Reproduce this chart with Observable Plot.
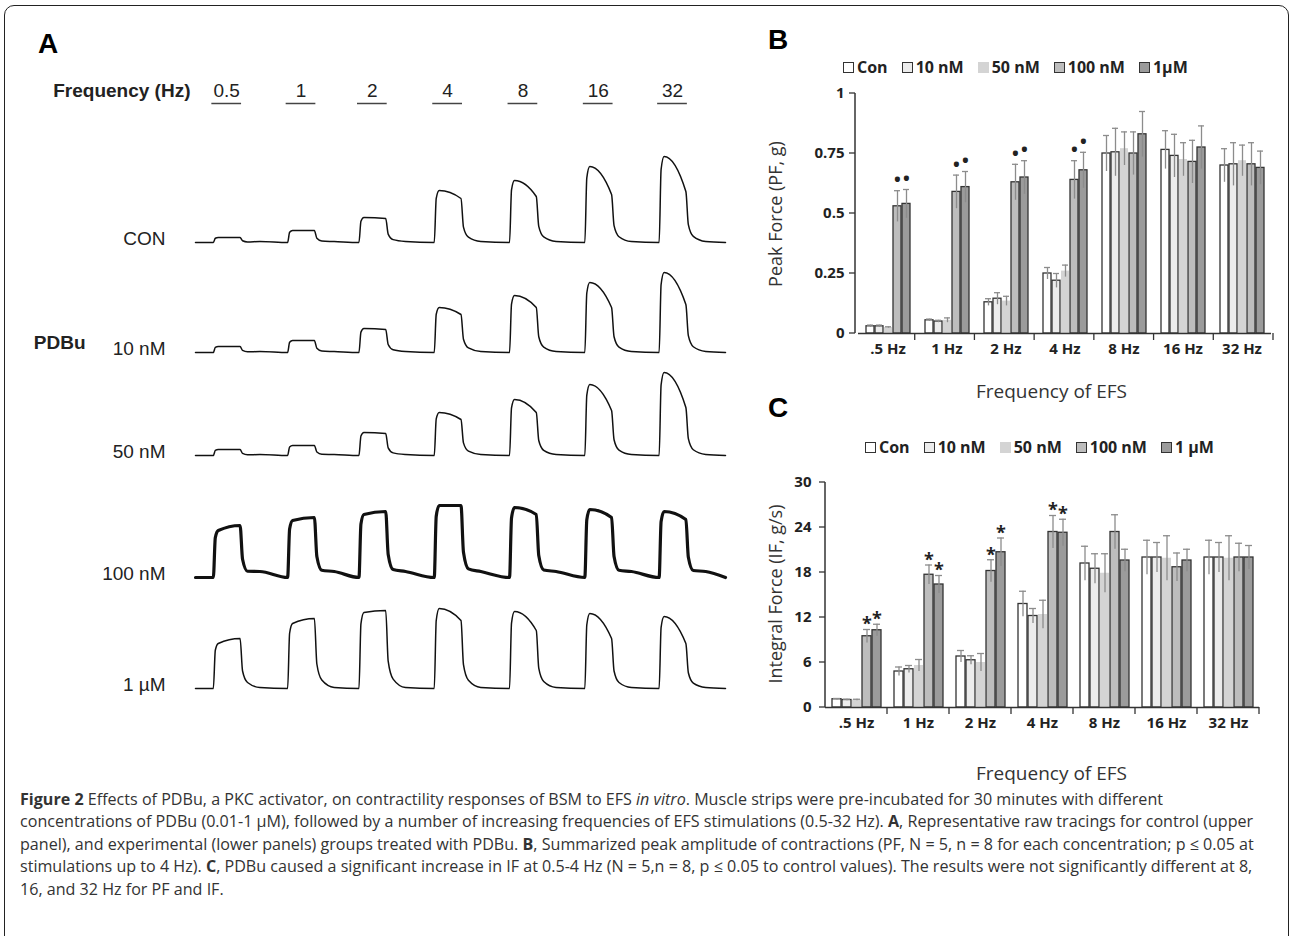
<!DOCTYPE html>
<html>
<head>
<meta charset="utf-8">
<script src="https://cdn.jsdelivr.net/npm/d3@7"></script>
<script src="https://cdn.jsdelivr.net/npm/@observablehq/plot@0.6"></script>
<style>
  body { margin: 0; background: #fff; font-family: "Liberation Sans", Arial, sans-serif; }
  #fig { position: relative; width: 1292px; height: 936px; overflow: hidden; }
  .abs { position: absolute; }
  .frame { left: 4px; top: 5px; width: 1283px; height: 960px; border: 1.5px solid #222; border-radius: 10px; }
  .panel { font: bold 28px "Liberation Sans", Arial, sans-serif; }
  .legend { font: bold 16px "Open Sans", sans-serif; color: #222; display: flex; gap: 14px; align-items: center; }
  .legend span { display: inline-flex; align-items: center; gap: 3px; }
  .legend i { display: inline-block; width: 11px; height: 11px; box-sizing: border-box; }
  .ylab { font: 18px "Open Sans", sans-serif; color: #333; transform: rotate(-90deg); transform-origin: center; white-space: nowrap; text-align: center; }
  .xlab { font: 19px "Open Sans", sans-serif; color: #333; }
  .cap { left: 20px; top: 788px; width: 1235px; font: 16.1px/22.4px "Open Sans", sans-serif; color: #333; }
</style>
</head>
<body>
<div id="fig">
  <div class="abs frame"></div>
  <div class="abs panel" style="left:38px;top:28px">A</div>
  <div class="abs panel" style="left:768px;top:24px">B</div>
  <div class="abs panel" style="left:768px;top:392px">C</div>
  <div id="a" class="abs" style="left:0;top:0"></div>
  <div id="legB" class="abs legend" style="left:843px;top:56px"></div>
  <div id="b" class="abs" style="left:760px;top:60px"></div>
  <div class="abs ylab" style="left:680px;top:202px;width:190px">Peak Force (PF, g)</div>
  <div class="abs xlab" style="left:976px;top:378px">Frequency of EFS</div>
  <div id="legC" class="abs legend" style="left:865px;top:436px"></div>
  <div id="c" class="abs" style="left:740px;top:450px"></div>
  <div class="abs ylab" style="left:665px;top:582px;width:220px">Integral Force (IF, g/s)</div>
  <div class="abs xlab" style="left:976px;top:760px">Frequency of EFS</div>
  <div class="abs cap"><b>Figure 2</b> Effects of PDBu, a PKC activator, on contractility responses of BSM to EFS <i>in vitro</i>. Muscle strips were pre-incubated for 30 minutes with different concentrations of PDBu (0.01-1 μM), followed by a number of increasing frequencies of EFS stimulations (0.5-32 Hz). <b>A</b>, Representative raw tracings for control (upper panel), and experimental (lower panels) groups treated with PDBu. <b>B</b>, Summarized peak amplitude of contractions (PF, N = 5, n = 8 for each concentration; p ≤ 0.05 at stimulations up to 4 Hz). <b>C</b>, PDBu caused a significant increase in IF at 0.5-4 Hz (N = 5,n = 8, p ≤ 0.05 to control values). The results were not significantly different at 8, 16, and 32 Hz for PF and IF.</div>
</div>
<script>
// ---- data ----
const freqs = [".5 Hz", "1 Hz", "2 Hz", "4 Hz", "8 Hz", "16 Hz", "32 Hz"];
const freqHz = ["0.5", "1", "2", "4", "8", "16", "32"];
const concs = ["Con", "10 nM", "50 nM", "100 nM", "1µM"];
const concColors = ["#ffffff", "#ececec", "#d4d4d4", "#bdbdbd", "#9b9b9b"];
const concStroke = ["#333", "#333", "none", "#333", "#333"];

// peak force (g), rows = frequency, columns = concentration
const pfMean = [
  [0.03, 0.03, 0.025, 0.53, 0.54],
  [0.055, 0.05, 0.055, 0.59, 0.61],
  [0.13, 0.145, 0.135, 0.63, 0.65],
  [0.25, 0.22, 0.26, 0.64, 0.68],
  [0.75, 0.755, 0.77, 0.75, 0.83],
  [0.765, 0.74, 0.725, 0.715, 0.775],
  [0.70, 0.705, 0.72, 0.705, 0.69]
];
const pfErr = [
  [0.005, 0.005, 0.003, 0.065, 0.06],
  [0.005, 0.005, 0.01, 0.07, 0.065],
  [0.015, 0.025, 0.02, 0.075, 0.07],
  [0.025, 0.03, 0.025, 0.08, 0.075],
  [0.075, 0.1, 0.07, 0.09, 0.095],
  [0.08, 0.09, 0.07, 0.09, 0.09],
  [0.07, 0.09, 0.065, 0.09, 0.07]
];
// integral force (g/s)
const ifMean = [
  [1.1, 1.0, 1.0, 9.5, 10.3],
  [4.8, 5.1, 5.6, 17.7, 16.4],
  [6.8, 6.3, 6.0, 18.2, 20.7],
  [13.8, 12.2, 12.4, 23.4, 23.3],
  [19.2, 18.5, 17.9, 23.4, 19.6],
  [20.0, 20.0, 19.9, 18.7, 19.6],
  [20.0, 20.0, 19.9, 20.0, 20.0]
];
const ifErr = [
  [0.1, 0.1, 0.1, 0.9, 0.8],
  [0.6, 0.5, 0.8, 1.3, 1.2],
  [0.8, 0.6, 1.2, 1.5, 1.9],
  [1.7, 1.0, 1.9, 2.2, 1.8],
  [2.3, 2.0, 2.6, 2.3, 1.5],
  [2.3, 2.0, 3.0, 1.9, 1.5],
  [2.3, 2.0, 3.0, 1.9, 1.6]
];
const sigFreqs = [".5 Hz", "1 Hz", "2 Hz", "4 Hz"];
const sigConcs = ["100 nM", "1µM"];

// panel A tracings: pulse onset (s), duration (s), peak and end-of-pulse amplitude (arbitrary units)
const pulseStart = [3.6, 18.6, 33, 48.2, 63.4, 78.6, 93.6];
const pulseDur = 5.4;
const traceEnd = 107;
const traceRows = ["CON", "10 nM", "50 nM", "100 nM", "1 µM"];
const traceBase = [242, 352, 455, 577, 688];
const tracePeak = [
  [5, 12, 25, 52, 62, 76, 86],
  [6, 12, 24, 45, 57, 70, 80],
  [6, 10, 23, 43, 56, 71, 83],
  [47, 57, 63, 72, 70, 68, 66],
  [45, 65, 76, 80, 77, 75, 72]
];
const traceEndAmp = [
  [5, 12, 24, 44, 46, 48, 51],
  [6, 12, 23, 38, 45, 45, 48],
  [6, 10, 22, 36, 43, 45, 48],
  [52, 60, 66, 72, 63, 60, 58],
  [50, 70, 78, 68, 58, 50, 45]
];
const traceWidth = [1.5, 1.5, 1.5, 3.2, 1.5];

// ---- panel A ----
const tracePts = [];
traceRows.forEach((row, r) => {
  const push = (tt, a) => tracePts.push({row, t: tt, y: traceBase[r] - a});
  push(0, 0);
  pulseStart.forEach((s, i) => {
    const pk = tracePeak[r][i], en = traceEndAmp[r][i];
    push(s, 0);
    push(s + 0.4, pk * 0.85);
    push(s + 1.0, pk);
    push(s + pulseDur, en);
    push(s + pulseDur + 0.5, en * 0.35);
    push(s + pulseDur + 1.5, en * 0.12);
    push(s + pulseDur + 4, r === 3 ? 6 : 1);
    const nxt = i < pulseStart.length - 1 ? pulseStart[i + 1] : traceEnd;
    push(nxt, 0);
  });
});
const freqMarks = freqHz.map((f, i) => ({f, t: pulseStart[i] + pulseDur / 2}));
const rowLabels = traceRows.map((r, i) => ({r, y: traceBase[i] - 4}));

const chartA = Plot.plot({
  width: 760, height: 770,
  marginLeft: 195, marginRight: 35, marginTop: 0, marginBottom: 0,
  x: {domain: [0, traceEnd], axis: null},
  y: {domain: [0, 770], range: [0, 770], axis: null},
  style: {fontFamily: "'Liberation Sans', Arial, sans-serif"},
  marks: [
    Plot.line(tracePts, {x: "t", y: "y", z: "row", stroke: "#111",
      strokeWidth: d => traceWidth[traceRows.indexOf(d.row)], curve: "monotone-x"}),
    Plot.text(freqMarks, {x: "t", y: 90, text: "f", fontSize: 19, fill: "#222"}),
    Plot.ruleY(freqMarks, {x1: d => d.t - 3, x2: d => d.t + 3, y: 103, stroke: "#444", strokeWidth: 1.5}),
    Plot.text(rowLabels, {x: 0, y: "y", text: "r", dx: -30, textAnchor: "end", fontSize: 19, fill: "#222"}),
    Plot.text(["Frequency (Hz)"], {x: 0, y: 90, dx: -5, textAnchor: "end", fontSize: 19, fontWeight: "bold", fill: "#222"}),
    Plot.text(["PDBu"], {x: 0, y: 342, dx: -110, textAnchor: "end", fontSize: 19, fontWeight: "bold", fill: "#222"})
  ]
});
document.getElementById("a").append(chartA);

// ---- panels B and C ----
function rowsOf(mean, err) {
  const out = [];
  freqs.forEach((f, i) => concs.forEach((c, j) => out.push({freq: f, conc: c, v: mean[i][j], e: err[i][j]})));
  return out;
}
function legend(id, names) {
  const el = document.getElementById(id);
  names.forEach((n, j) => {
    const s = document.createElement("span");
    s.innerHTML = `<i style="background:${concColors[j]};border:1.5px solid ${concStroke[j] === "none" ? concColors[j] : "#333"}"></i>${n}`;
    el.append(s);
  });
}
legend("legB", concs);
legend("legC", ["Con", "10 nM", "50 nM", "100 nM", "1 µM"]);

function barChart(data, {width, height, marginLeft, marginRight, marginTop, marginBottom, yMax, ticks, fmt, sig, sigDy}) {
  const sigData = data.filter(d => sigFreqs.includes(d.freq) && sigConcs.includes(d.conc));
  const outlined = data.filter(d => concStroke[concs.indexOf(d.conc)] !== "none");
  const plain = data.filter(d => concStroke[concs.indexOf(d.conc)] === "none");
  return Plot.plot({
    width, height, marginLeft, marginRight, marginTop, marginBottom,
    fx: {domain: freqs, padding: 0, label: null, axis: "bottom", tickSize: 0, tickPadding: 10},
    x: {domain: concs, axis: null, paddingInner: 0.12, paddingOuter: 0.55},
    y: {domain: [0, yMax], axis: null},
    color: {domain: concs, range: concColors},
    style: {fontFamily: "'Open Sans', sans-serif", fontSize: "15px", fontWeight: "bold", color: "#222"},
    marks: [
      Plot.barY(outlined, {fx: "freq", x: "conc", y: "v", fill: "conc", stroke: "#333", strokeWidth: 1.3}),
      Plot.barY(plain, {fx: "freq", x: "conc", y: "v", fill: "conc"}),
      Plot.ruleX(data, {fx: "freq", x: "conc", y1: d => d.v - d.e, y2: d => d.v + d.e, stroke: "#8c8c8c", strokeWidth: 1.3}),
      Plot.tickY(data, {fx: "freq", x: "conc", y: d => d.v + d.e, stroke: "#8c8c8c", strokeWidth: 1.3, inset: 1}),
      Plot.text(sigData, {fx: "freq", x: "conc", y: d => d.v + d.e, text: () => sig, dy: sigDy, fontSize: 18, fill: "#222"}),
      Plot.text(ticks, {fx: () => freqs[0], y: d => d, text: fmt, frameAnchor: "left", dx: -14, textAnchor: "end", fill: "#222"}),
      Plot.ruleY([0], {stroke: "#333", strokeWidth: 1.5})
    ]
  });
}

const pfTicks = [0, 0.25, 0.5, 0.75, 1];
const ifTicks = [0, 6, 12, 18, 24, 30];
const chartB = barChart(rowsOf(pfMean, pfErr), {
  width: 525, height: 335, marginLeft: 95, marginRight: 12, marginTop: 33, marginBottom: 62,
  yMax: 1, ticks: pfTicks, fmt: d => String(d), sig: "•", sigDy: -10
});
const chartC = barChart(rowsOf(ifMean, ifErr), {
  width: 530, height: 300, marginLeft: 85, marginRight: 11, marginTop: 32, marginBottom: 43,
  yMax: 30, ticks: ifTicks, fmt: d => String(d), sig: "*", sigDy: -5
});
document.getElementById("b").append(chartB);
document.getElementById("c").append(chartC);
// y-axis line, tick marks and group separator ticks
[["b", 95, 525 - 12, 33, 335 - 62, pfTicks, 1], ["c", 85, 530 - 11, 32, 300 - 43, ifTicks, 30]].forEach(([id, x0, x1, y1, y2, tk, ymax]) => {
  const svg = d3.select(`#${id} svg`);
  const ys = d3.scaleLinear([0, ymax], [y2, y1]);
  svg.append("line").attr("x1", x0).attr("x2", x0).attr("y1", y1).attr("y2", y2)
    .attr("stroke", "#333").attr("stroke-width", 1.5);
  tk.forEach(t => svg.append("line").attr("x1", x0 - 6).attr("x2", x0).attr("y1", ys(t)).attr("y2", ys(t))
    .attr("stroke", "#333").attr("stroke-width", 1.3));
  const step = (x1 - x0) / freqs.length;
  for (let k = 1; k <= freqs.length; k++) {
    svg.append("line").attr("x1", x0 + k * step).attr("x2", x0 + k * step).attr("y1", y2).attr("y2", y2 + 7)
      .attr("stroke", "#333").attr("stroke-width", 1.3);
  }
});
</script>
</body>
</html>
